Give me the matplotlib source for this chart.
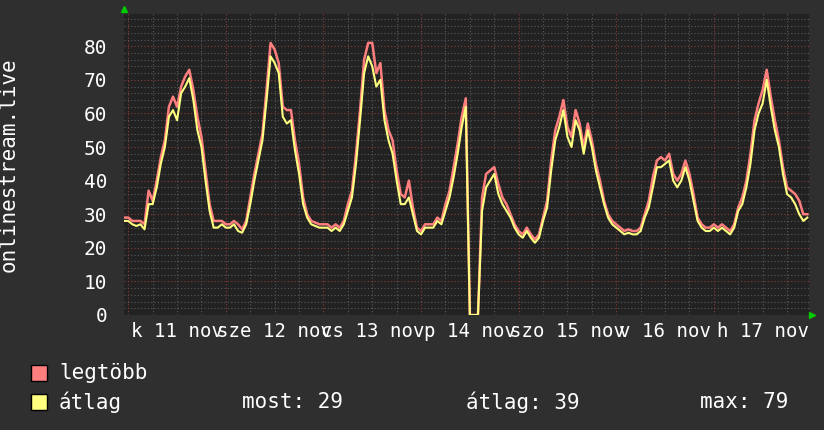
import numpy as np
import matplotlib
matplotlib.use('Agg')
import matplotlib.pyplot as plt
from matplotlib.patches import Rectangle

plt.rcParams['font.family'] = ['DejaVu Sans Mono', 'DejaVu Sans']

# óra 11 nov 00:00-tól számolva (-1 ... 167)
hours = np.arange(-1, 168)

# átlag (sárga)
avg_values = [28,
    28, 27, 26.5, 27, 25.5, 33, 33, 38, 45, 50, 59, 61, 58, 66, 68, 70.5, 64, 55, 50, 40, 31, 26, 26, 27,
    26, 26, 27, 25, 24.5, 27, 33, 40, 46, 52, 64, 77, 75, 72, 59, 57, 58, 49, 42, 33, 29, 27, 26.5, 26,
    26, 26, 25, 26, 25, 27, 31, 35, 45, 58, 72, 77, 74, 68, 70, 58, 52, 48, 40, 33, 33, 35, 30, 25,
    24, 26, 26, 26, 28, 27, 31, 35, 41, 48, 56, 62, 0, 0, 0, 31, 38, 40, 42, 36, 33, 31, 29, 26,
    24, 23, 25, 23, 21.5, 23, 28, 32, 43, 52, 56, 61, 53, 50, 58, 55, 48, 55, 50, 43, 38, 33, 29, 27,
    26, 25, 24, 24.5, 24, 24, 25, 29, 32, 38, 44, 44, 45, 46, 40, 38, 40, 44, 40, 34, 28, 26, 25, 25,
    26, 25, 26, 25, 24, 26, 31, 33, 38, 45, 55, 60, 63, 70, 62, 55, 50, 42, 36, 35, 33, 30, 28, 29]

# legtöbb (piros)
max_values = [29,
    29, 28, 28, 28, 27, 37, 34, 40, 47, 52, 62, 65, 62, 68, 71, 73, 67, 59, 53, 43, 33, 28, 28, 28,
    27, 27, 28, 27, 25.5, 28, 35, 42, 48, 54, 67, 81, 79, 75, 62, 61, 61, 52, 45, 35, 30, 28, 27.5, 27,
    27, 27, 26, 27, 26, 28, 33, 37, 48, 61, 76, 81, 81, 72, 75, 61, 55, 52, 43, 36, 35, 40, 32, 26,
    25, 27, 27, 27, 29, 28, 33, 37, 44, 51, 59, 64.5, 0, 0, 0, 35, 42, 43, 44, 39, 35, 33, 30, 27,
    25, 24, 26, 24, 22.5, 24, 29, 34, 46, 55, 59, 64, 56, 53, 61, 57, 50, 57, 52, 45, 40, 34, 30, 28,
    27, 26, 25, 25.5, 25, 25, 26, 30, 34, 41, 46, 47, 46, 48, 42, 40, 42, 46, 42, 36, 29, 27, 26, 26,
    27, 26, 27, 26, 25, 27, 32, 35, 40, 48, 58, 63, 67, 73, 65, 58, 52, 44, 38, 37, 36, 34, 30, 30]

day_labels = ['k 11 nov', 'sze 12 nov', 'cs 13 nov', 'p 14 nov',
              'szo 15 nov', 'v 16 nov', 'h 17 nov']
y_ticks = [0, 10, 20, 30, 40, 50, 60, 70, 80]

BG = '#2f2f2f'
CANVAS = '#222222'
RED = '#ff7f7f'
YELLOW = '#ffff80'

fig = plt.figure(figsize=(8.24, 4.30), dpi=100, facecolor=BG)
ax = fig.add_axes([124/824, 1 - 315/430, (809-124)/824, (315-14)/430])
ax.set_facecolor(CANVAS)
ax.set_xlim(-1.05, 167.4)
ax.set_ylim(0, 89.6)

# rács
for y in np.arange(0, 90, 2):
    if y % 10 == 0:
        continue
    ax.axhline(y, color='#5a5a5a', lw=0.8, ls=(0, (1, 2)), zorder=1)
for x in np.arange(6, 168, 6):
    if x % 24 == 0:
        continue
    ax.axvline(x, color='#5a5a5a', lw=0.8, ls=(0, (1, 2)), zorder=1)
for y in y_ticks:
    ax.axhline(y, color='#8a3a3a', lw=0.8, ls=(0, (1, 2)), zorder=1)
for x in np.arange(0, 168, 24):
    ax.axvline(x, color='#8a3a3a', lw=0.8, ls=(0, (1, 2)), zorder=1)

ax.plot(hours, max_values, color=RED, lw=1.8, zorder=3)
ax.plot(hours, avg_values, color=YELLOW, lw=1.5, zorder=4)

for s in ax.spines.values():
    s.set_visible(False)

ax.set_yticks(y_ticks)
ax.set_yticklabels([str(v) for v in y_ticks])
ax.set_xticks(np.arange(12, 168, 24))
ax.set_xticklabels(day_labels)
ax.tick_params(axis='y', length=0, pad=12, labelsize=14, colors='white')
ax.tick_params(axis='x', length=0, pad=5, labelsize=13.7, colors='white')

ax.set_ylabel('onlinestream.live', fontsize=15, color='white')
ax.yaxis.set_label_coords((19 - 124)/685, 0.5)

# nyilak
ax.plot([0], [1.018], marker='^', color='#00cc00', markersize=5,
        transform=ax.transAxes, clip_on=False)
ax.plot([1.005], [0], marker='>', color='#00cc00', markersize=5,
        transform=ax.transAxes, clip_on=False)

# jelmagyarázat
for ypix, col, lab in [(373, RED, 'legtöbb'), (402, YELLOW, 'átlag')]:
    fig.add_artist(Rectangle((31/824, 1 - (ypix + 8)/430), 16/824, 16/430,
                             transform=fig.transFigure, facecolor=col,
                             edgecolor='black', lw=1))
    fig.text(59/824, 1 - ypix/430, lab, color='white', fontsize=15, va='center')

fig.text(242/824, 1 - 402/430, 'most: 29', color='white', fontsize=15, va='center')
fig.text(466/824, 1 - 402/430, 'átlag: 39', color='white', fontsize=15, va='center')
fig.text(700/824, 1 - 402/430, 'max: 79', color='white', fontsize=15, va='center')

fig.savefig('out.png', dpi=100, facecolor=BG)
